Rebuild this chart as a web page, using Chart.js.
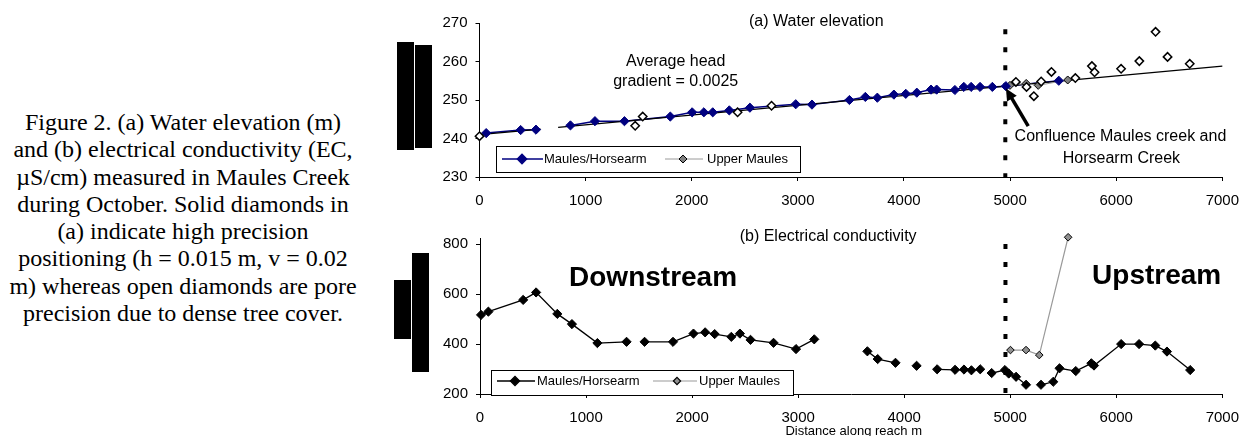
<!DOCTYPE html>
<html>
<head>
<meta charset="utf-8">
<script src="https://cdn.jsdelivr.net/npm/chart.js@4.4.1/dist/chart.umd.min.js"></script>
<style>
    html, body { margin: 0; padding: 0; background: #fff; }
    #page { position: relative; width: 1250px; height: 436px; overflow: hidden; }
    #caption {
        position: absolute; left: 0; top: 109px; width: 366px;
        text-align: center; font-family: "Liberation Serif", "Times New Roman", serif;
        font-size: 24px; line-height: 27.3px; color: #000;
    }
    .bar { position: absolute; background: #000; }
    canvas { position: absolute; }
</style>
</head>
<body>
<div id="page">
    <div id="caption">Figure 2. (a) Water elevation (m)<br>and (b) electrical conductivity (EC,<br>µS/cm) measured in Maules Creek<br>during October. Solid diamonds in<br>(a) indicate high precision<br>positioning (h = 0.015 m, v = 0.02<br>m) whereas open diamonds are pore<br>precision due to dense tree cover.</div>
    <div class="bar" style="left:397px;top:42px;width:17px;height:108px"></div>
    <div class="bar" style="left:415px;top:45px;width:17px;height:103px"></div>
    <div class="bar" style="left:394px;top:280px;width:17px;height:59px"></div>
    <div class="bar" style="left:412px;top:253px;width:17px;height:119px"></div>
    <canvas id="elevation" width="870" height="218" style="left:380px;top:0;width:870px;height:218px"></canvas>
    <canvas id="conductivity" width="870" height="216" style="left:380px;top:220px;width:870px;height:216px"></canvas>
</div>
<script>
// shared axis ticks
const distTicks = [0, 1000, 2000, 3000, 4000, 5000, 6000, 7000];
const elevTicks = [230, 240, 250, 260, 270];
const ecTicks = [200, 400, 600, 800];

// confluence of Maules and Horsearm creeks (m along reach)
const confluenceX = 4955;

// (a) water elevation, m
const elevSolidDist = [63, 388, 532, null, 857, 1088, 1366, 1798, 2004, 2114, 2198, 2354, 2548, 2980, 3133, 3486, 3636, 3749, 3905, 4017, 4121, 4255, 4308, 4480, 4564, 4633, 4717, 4833, 4960, 5459];
const elevSolidLevel = [241.4, 242.2, 242.3, null, 243.4, 244.5, 244.5, 245.7, 246.8, 246.8, 246.8, 247.3, 248.0, 248.9, 248.8, 250.0, 250.8, 250.6, 251.4, 251.6, 251.9, 252.7, 252.7, 252.6, 253.4, 253.4, 253.4, 253.4, 253.6, 255.0];
const elevUpperDist = [4999, 5152, 5265, 5543];
const elevUpperLevel = [253.8, 254.3, 253.8, 255.2];
const elevOpenDist = [0, 1467, 1538, 2432, 2752, 5055, 5155, 5224, 5293, 5390, 5615, 5771, 5796, 6046, 6218, 6371, 6484, 6693];
const elevOpenLevel = [240.6, 243.3, 245.7, 246.8, 248.5, 254.7, 253.4, 251.0, 254.8, 257.3, 255.7, 258.8, 257.2, 258.1, 260.1, 267.7, 261.2, 259.4];
const trendDist = [0, 576, null, 741, 7000];
const trendLevel = [241.0, 242.46, null, 242.88, 258.8];

// (b) electrical conductivity, uS/cm
const ecMainDist = [10, 79, 407, 529, 729, 867, 1107, 1382, null, 1552, 1820, 2013, 2123, 2213, 2370, 2451, 2551, 2768, 2980, 3152, null, 3653, 3750, 3918, null, 4117, null, 4311, 4480, 4564, 4634, 4717, null, 4825, 4950, 4986, 5055, 5149, null, 5290, 5406, 5465, 5618, 5765, 5790, 6046, 6215, 6368, 6478, 6697];
const ecMainValue = [517, 530, 577, 607, 521, 480, 404, 409, null, 409, 409, 442, 447, 440, 429, 442, 417, 405, 380, 419, null, 371, 340, 325, null, 313, null, 299, 297, 298, 295, 299, null, 284, 296, 282, 269, 237, null, 237, 249, 303, 292, 323, 314, 400, 400, 394, 370, 296];
const ecUpperDist = [5002, 5149, 5274, 5546];
const ecUpperValue = [376, 376, 356, 828];

const SANS = '"Liberation Sans", Arial, sans-serif';
Chart.defaults.font.family = SANS;
Chart.defaults.color = '#000';

function toPoints(xs, ys) {
    return xs.map((x, i) => ({ x: x, y: ys[i] }));
}

/**
 * Writes text labels and arrows given in data units.
 */
const notes = {
    id: 'notes',
    afterDatasetsDraw(chart, args, opts) {
        const { ctx, scales: { x, y } } = chart;
        ctx.save();
        ctx.fillStyle = '#000';
        ctx.textAlign = 'center';
        ctx.textBaseline = 'middle';
        for (let t of opts.texts || []) {
            ctx.font = t.font;
            ctx.fillText(t.text, x.getPixelForValue(t.at[0]), y.getPixelForValue(t.at[1]));
        }
        for (let a of opts.arrows || []) {
            const x1 = x.getPixelForValue(a.from[0]), y1 = y.getPixelForValue(a.from[1]);
            const x2 = x.getPixelForValue(a.to[0]), y2 = y.getPixelForValue(a.to[1]);
            const ang = Math.atan2(y2 - y1, x2 - x1);
            const head = 13;
            ctx.strokeStyle = '#000';
            ctx.lineWidth = 3.5;
            ctx.beginPath();
            ctx.moveTo(x1, y1);
            ctx.lineTo(x2 - Math.cos(ang) * head * 0.8, y2 - Math.sin(ang) * head * 0.8);
            ctx.stroke();
            ctx.beginPath();
            ctx.moveTo(x2, y2);
            ctx.lineTo(x2 - Math.cos(ang - 0.45) * head, y2 - Math.sin(ang - 0.45) * head);
            ctx.lineTo(x2 - Math.cos(ang + 0.45) * head, y2 - Math.sin(ang + 0.45) * head);
            ctx.closePath();
            ctx.fill();
        }
        ctx.restore();
    }
};

/**
 * Excel style boxed legend inside the plot.
 */
const boxLegend = {
    id: 'boxLegend',
    afterDraw(chart, args, opts) {
        if (!opts.box) return;
        const ctx = chart.ctx;
        const b = opts.box;
        ctx.save();
        ctx.fillStyle = '#fff';
        ctx.fillRect(b.x, b.y, b.w, b.h);
        ctx.strokeStyle = '#000';
        ctx.lineWidth = 1;
        ctx.strokeRect(b.x + 0.5, b.y + 0.5, b.w, b.h);
        for (let e of opts.items) {
            const lineDs = chart.data.datasets[e.line];
            const markDs = chart.data.datasets[e.marker];
            ctx.strokeStyle = lineDs.borderColor;
            ctx.lineWidth = lineDs.borderWidth;
            ctx.beginPath();
            ctx.moveTo(e.x1, e.y);
            ctx.lineTo(e.x2, e.y);
            ctx.stroke();
            ctx.fillStyle = markDs.pointBackgroundColor;
            ctx.strokeStyle = markDs.pointBorderColor;
            Chart.helpers.drawPoint(ctx, { pointStyle: 'rectRot', radius: e.r, borderWidth: markDs.pointBorderWidth || 1 }, e.mx, e.y);
            ctx.fillStyle = '#000';
            ctx.font = '13px ' + SANS;
            ctx.textAlign = 'left';
            ctx.textBaseline = 'middle';
            ctx.fillText(markDs.label, e.tx, e.y);
        }
        ctx.restore();
    }
};

function axes(yMin, yMax, yTicks, yWidth, xHeight) {
    const tickFont = { family: SANS, size: 15 };
    return {
        x: {
            type: 'linear', min: 0, max: 7000,
            afterBuildTicks: s => { s.ticks = distTicks.map(v => ({ value: v })); },
            afterFit: s => { s.height = xHeight; },
            grid: { drawOnChartArea: false, drawTicks: true, tickLength: 4, tickColor: '#000' },
            border: { color: '#000', width: 1 },
            ticks: { font: tickFont, color: '#000', padding: 11, maxRotation: 0, autoSkip: false, callback: v => String(v) }
        },
        y: {
            type: 'linear', min: yMin, max: yMax,
            afterBuildTicks: s => { s.ticks = yTicks.map(v => ({ value: v })); },
            afterFit: s => { s.width = yWidth; },
            grid: { drawOnChartArea: false, drawTicks: true, tickLength: 4, tickColor: '#000' },
            border: { color: '#000', width: 1 },
            ticks: { font: tickFont, color: '#000', padding: 8, callback: v => String(v) }
        }
    };
}

const baseOptions = {
    responsive: false,
    animation: false,
    events: [],
    plugins: { legend: { display: false }, tooltip: { enabled: false } }
};

new Chart(document.getElementById('elevation'), {
    type: 'scatter',
    plugins: [notes, boxLegend],
    data: {
        datasets: [
            { label: 'Maules/Horsearm', data: toPoints(elevSolidDist, elevSolidLevel), showLine: true, borderColor: '#000080', borderWidth: 1.5, pointRadius: 0, order: 5, clip: false },
            { label: 'trend', data: toPoints(trendDist, trendLevel), showLine: true, borderColor: '#000', borderWidth: 1.3, pointRadius: 0, order: 4, clip: false },
            { label: 'Upper Maules', data: toPoints(elevUpperDist, elevUpperLevel), showLine: true, borderColor: '#9a9a9a', borderWidth: 1, pointStyle: 'rectRot', pointRadius: 4, pointBackgroundColor: '#808080', pointBorderColor: '#000', pointBorderWidth: 1, order: 3, clip: false },
            { label: 'Maules/Horsearm', data: toPoints(elevSolidDist, elevSolidLevel), showLine: false, pointStyle: 'rectRot', pointRadius: 4.6, pointBackgroundColor: '#000080', pointBorderColor: '#000080', pointBorderWidth: 1, order: 2, clip: false },
            { label: 'open', data: toPoints(elevOpenDist, elevOpenLevel), showLine: false, pointStyle: 'rectRot', pointRadius: 4.2, pointBackgroundColor: '#fff', pointBorderColor: '#000', pointBorderWidth: 1.5, order: 1, clip: false },
            { label: 'confluence', data: [{ x: confluenceX, y: 268.4 }, { x: confluenceX, y: 230 }], showLine: true, borderColor: '#000', borderWidth: 4, borderDash: [5, 13], pointRadius: 0, order: 6, clip: false }
        ]
    },
    options: {
        ...baseOptions,
        layout: { padding: { left: 0, right: 24, top: 23, bottom: 0 } },
        scales: axes(230, 270, elevTicks, 99.5, 41),
        plugins: {
            ...baseOptions.plugins,
            notes: {
                texts: [
                    { text: '(a) Water elevation', at: [3174, 270.3], font: '16px ' + SANS },
                    { text: 'Average head', at: [1849, 260.0], font: '16px ' + SANS },
                    { text: 'gradient = 0.0025', at: [1849, 254.7], font: '16px ' + SANS },
                    { text: 'Confluence Maules creek and', at: [6040, 240.4], font: '16px ' + SANS },
                    { text: 'Horsearm Creek', at: [6049, 234.8], font: '16px ' + SANS }
                ],
                arrows: [{ from: [5171, 243.2], to: [4961, 253.0] }]
            },
            boxLegend: {
                box: { x: 116, y: 146, w: 304, h: 26 },
                items: [
                    { line: 0, marker: 3, x1: 122, x2: 163, mx: 142, tx: 164, y: 159, r: 4.6 },
                    { line: 2, marker: 2, x1: 285, x2: 323, mx: 303, tx: 327, y: 159, r: 4 }
                ]
            }
        }
    }
});

new Chart(document.getElementById('conductivity'), {
    type: 'scatter',
    plugins: [notes, boxLegend],
    data: {
        datasets: [
            { label: 'Maules/Horsearm', data: toPoints(ecMainDist, ecMainValue), showLine: true, borderColor: '#000', borderWidth: 1.3, pointStyle: 'rectRot', pointRadius: 4.6, pointBackgroundColor: '#000', pointBorderColor: '#000', pointBorderWidth: 1, order: 2, clip: false },
            { label: 'Upper Maules', data: toPoints(ecUpperDist, ecUpperValue), showLine: true, borderColor: '#9a9a9a', borderWidth: 1.2, pointStyle: 'rectRot', pointRadius: 3.8, pointBackgroundColor: '#909090', pointBorderColor: '#000', pointBorderWidth: 1, order: 1, clip: false },
            { label: 'confluence', data: [{ x: confluenceX, y: 801 }, { x: confluenceX, y: 200 }], showLine: true, borderColor: '#000', borderWidth: 4, borderDash: [5, 13], pointRadius: 0, order: 3, clip: false }
        ]
    },
    options: {
        ...baseOptions,
        layout: { padding: { left: 0, right: 24, top: 18, bottom: 0 } },
        scales: axes(200, 825, ecTicks, 100, 42),
        plugins: {
            ...baseOptions.plugins,
            notes: {
                texts: [
                    { text: '(b) Electrical conductivity', at: [3283, 830], font: '16px ' + SANS },
                    { text: 'Downstream', at: [1632, 664], font: 'bold 28px ' + SANS },
                    { text: 'Upstream', at: [6381, 670], font: 'bold 28px ' + SANS },
                    { text: 'Distance along reach m', at: [3524, 52], font: '13px ' + SANS }
                ]
            },
            boxLegend: {
                box: { x: 111, y: 150, w: 302, h: 25 },
                items: [
                    { line: 0, marker: 0, x1: 117, x2: 155, mx: 135, tx: 157, y: 161, r: 4.6 },
                    { line: 1, marker: 1, x1: 273, x2: 317, mx: 297, tx: 319, y: 161, r: 3.6 }
                ]
            }
        }
    }
});
</script>
</body>
</html>
